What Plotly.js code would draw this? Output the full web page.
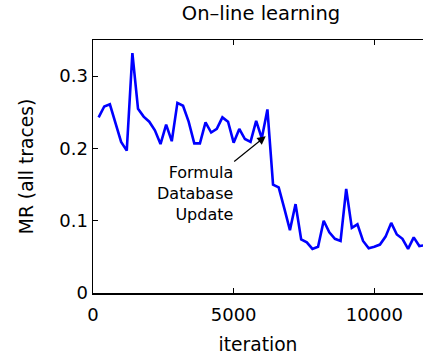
<!DOCTYPE html>
<html>
<head>
<meta charset="utf-8">
<script src="https://cdn.plot.ly/plotly-3.0.1.min.js"></script>
<style>html,body{margin:0;padding:0;background:#fff;}#chart{width:423px;height:356px;}</style>
</head>
<body>
<div id="chart"></div>
<script>
const iterations = [200,400,600,800,1000,1200,1400,1600,1800,2000,2200,2400,2600,2800,3000,3200,3400,3600,3800,4000,4200,4400,4600,4800,5000,5200,5400,5600,5800,6000,6200,6400,6600,6800,7000,7200,7400,7600,7800,8000,8200,8400,8600,8800,9000,9200,9400,9600,9800,10000,10200,10400,10600,10800,11000,11200,11400,11600,11800];
const mrValues = [0.243,0.258,0.261,0.234,0.209,0.197,0.332,0.255,0.244,0.237,0.225,0.206,0.233,0.210,0.263,0.259,0.237,0.207,0.207,0.236,0.222,0.227,0.243,0.237,0.208,0.227,0.213,0.209,0.238,0.214,0.254,0.150,0.146,0.117,0.087,0.123,0.074,0.070,0.061,0.064,0.100,0.084,0.075,0.072,0.144,0.090,0.095,0.072,0.062,0.064,0.067,0.078,0.097,0.081,0.075,0.061,0.077,0.065,0.066];
const xTicks = [0,5000,10000];
const yTicks = [0,0.1,0.2,0.3];
const yTickLabels = ['0','0.1','0.2','0.3'];
const annotationText = 'Formula<br>Database<br>Update';
const annotationPoint = {x: 6139, y: 0.217};

const font = 'DejaVu Sans, Arial, sans-serif';
const data = [{
  x: iterations, y: mrValues, type: 'scatter', mode: 'lines',
  line: {color: '#0000ff', width: 2.6}, hoverinfo: 'skip'
}];
const layout = {
  width: 423, height: 356,
  margin: {l: 93, r: 0, t: 40, b: 63},
  paper_bgcolor: '#fff', plot_bgcolor: '#fff',
  showlegend: false,
  font: {family: font, size: 18, color: '#000'},
  title: {text: 'On–line learning', font: {family: font, size: 19.5, color: '#000'}, x: 0.617, xanchor: 'center', y: 0.962, yanchor: 'middle'},
  xaxis: {
    range: [0, 11730], tickvals: xTicks, ticktext: xTicks.map(String),
    ticks: 'inside', ticklen: 5, tickwidth: 1, tickcolor: '#000',
    showline: true, linecolor: '#000', linewidth: 1.5, mirror: 'ticks',
    showgrid: false, zeroline: false, ticklabelstandoff: 5,
    tickfont: {family: font, size: 18, color: '#000'},
    title: {text: 'iteration', font: {family: font, size: 18.7, color: '#000'}, standoff: 14}
  },
  yaxis: {
    range: [0, 0.35], tickvals: yTicks, ticktext: yTickLabels,
    ticks: 'inside', ticklen: 5, tickwidth: 1, tickcolor: '#000',
    showline: true, linecolor: '#000', linewidth: 1.5, mirror: false,
    showgrid: false, zeroline: false,
    tickfont: {family: font, size: 18, color: '#000'},
    title: {text: 'MR (all traces)', font: {family: font, size: 18.7, color: '#000'}, standoff: 20}
  },
  annotations: [{
    x: annotationPoint.x, y: annotationPoint.y, xref: 'x', yref: 'y',
    text: annotationText, align: 'right',
    font: {family: font, size: 16, color: '#000'},
    showarrow: true, arrowhead: 2, arrowsize: 1.4, arrowwidth: 1.2, arrowcolor: '#000',
    ax: -71, ay: 57
  }]
};
Plotly.newPlot('chart', data, layout, {displayModeBar: false, staticPlot: true});
</script>
</body>
</html>
